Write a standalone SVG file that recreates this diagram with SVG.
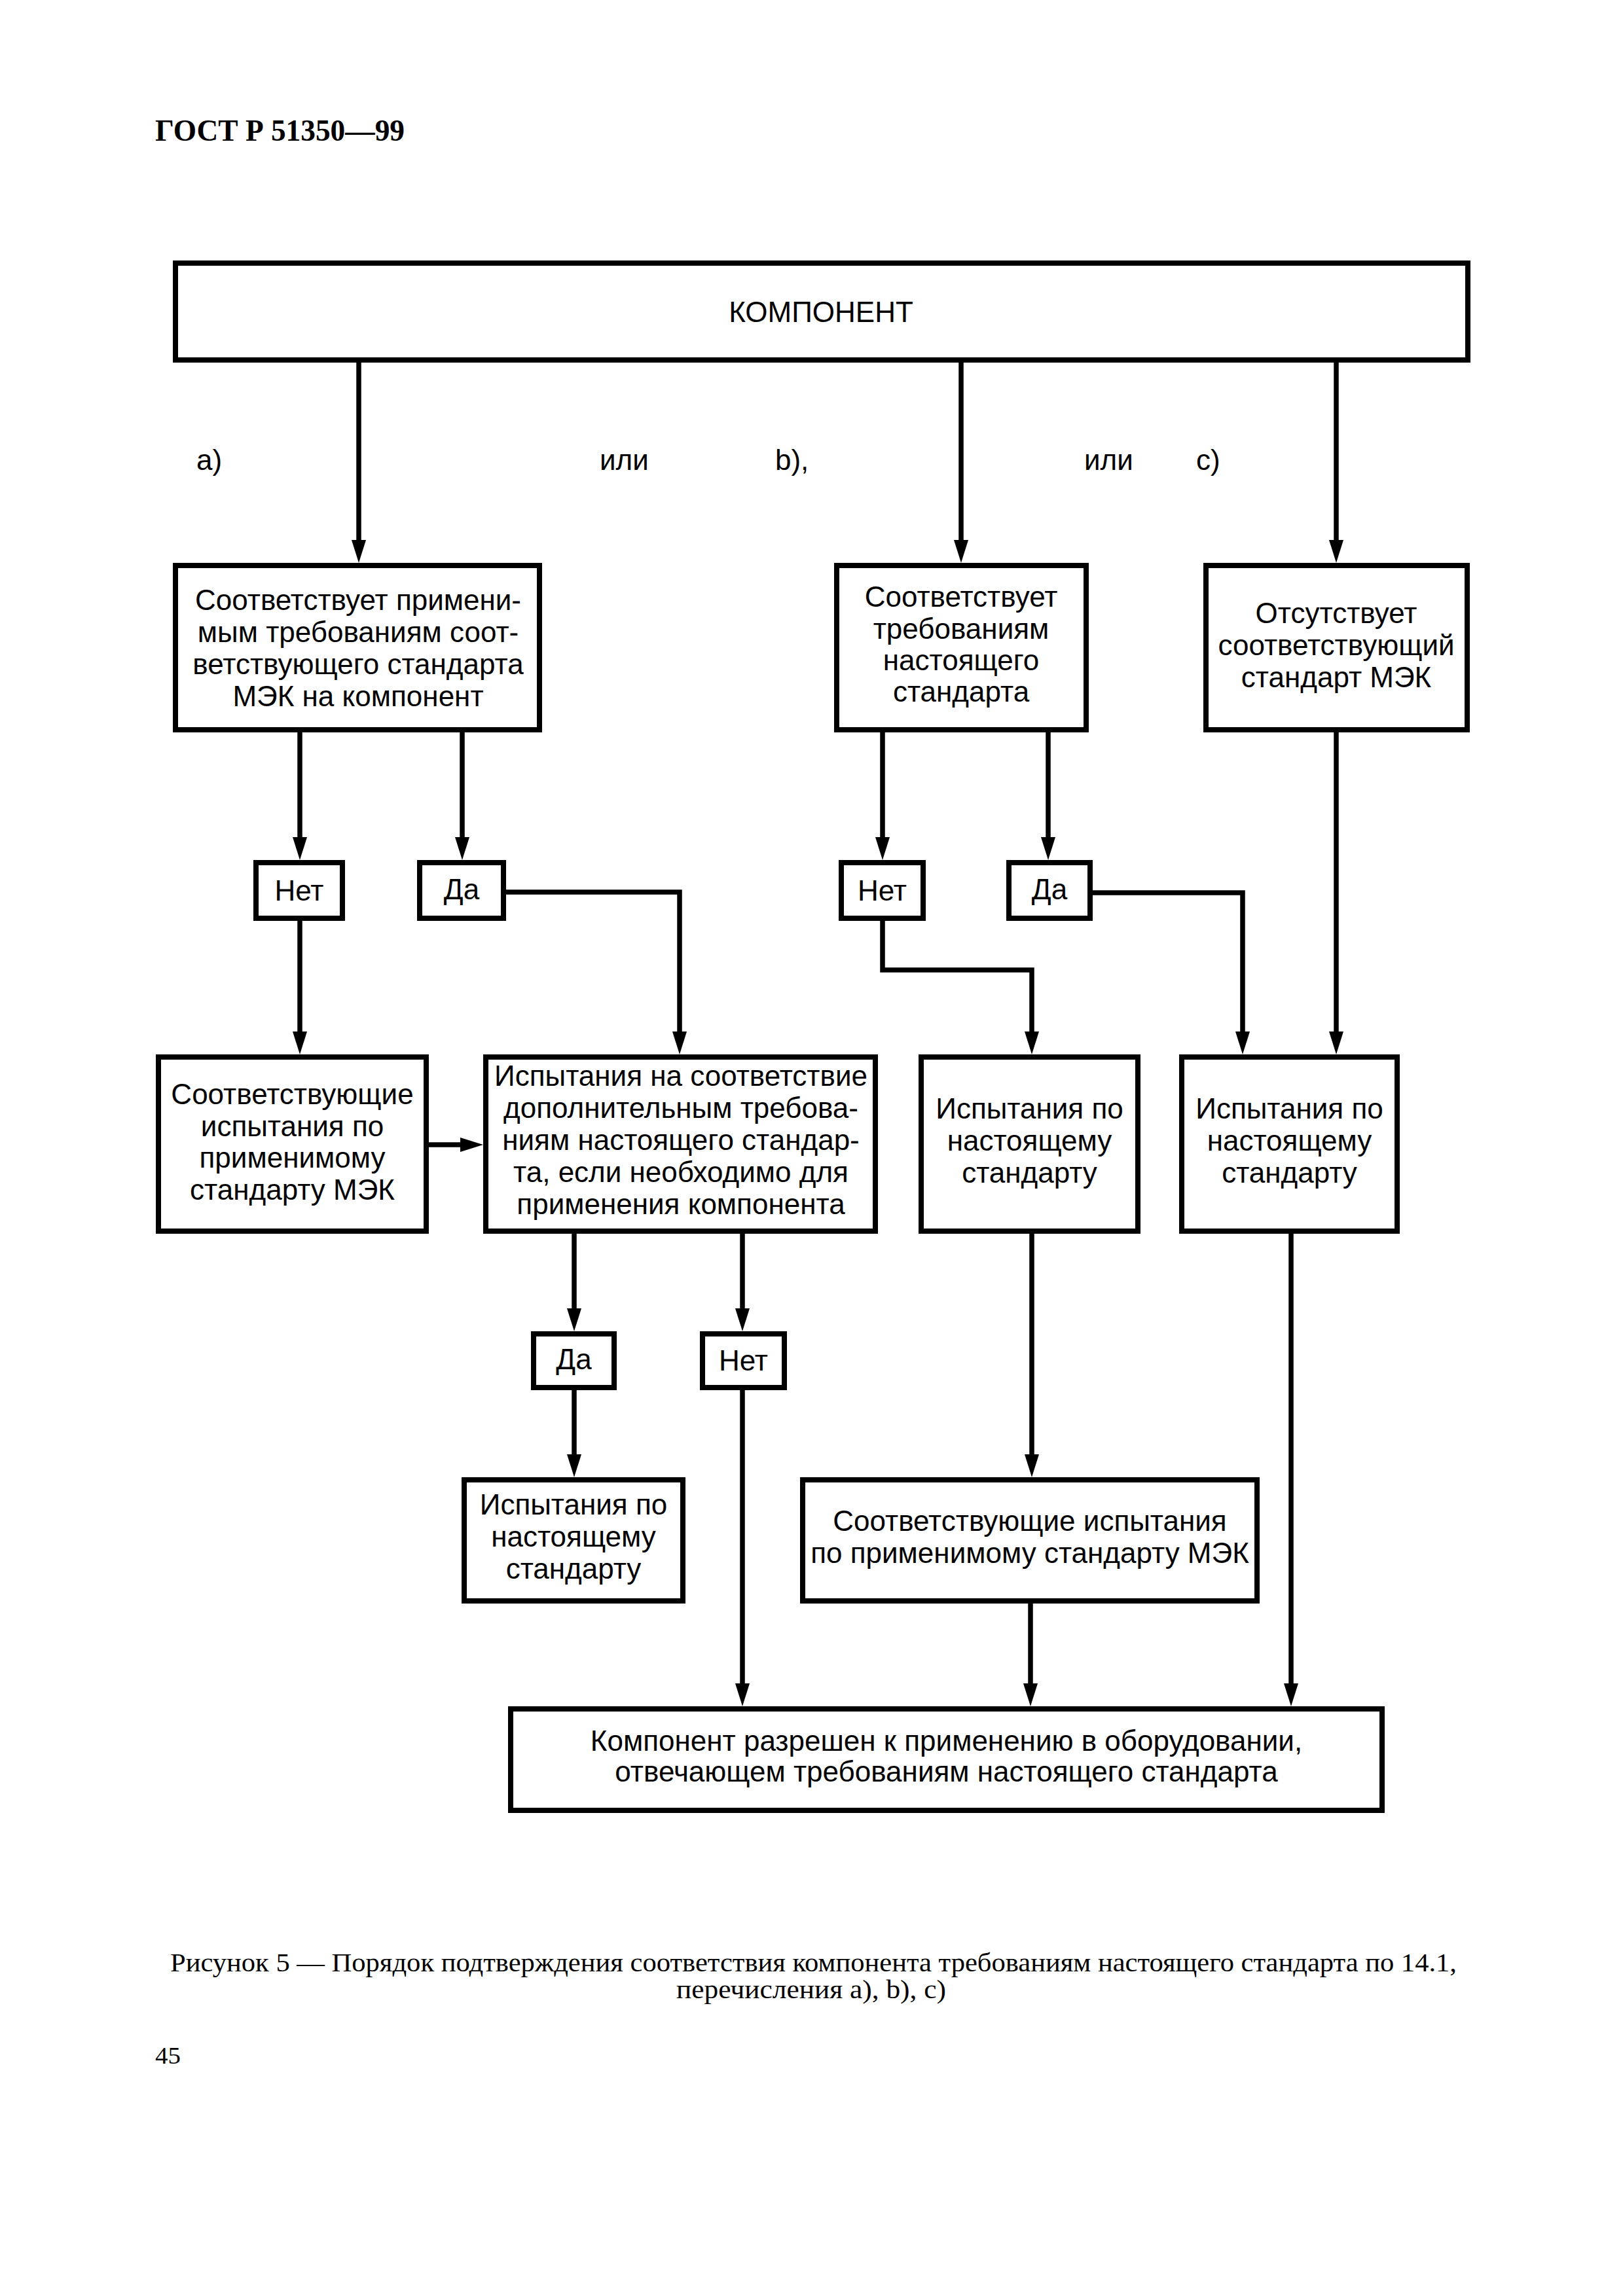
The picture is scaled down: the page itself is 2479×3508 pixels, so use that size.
<svg xmlns="http://www.w3.org/2000/svg" width="2479" height="3508" viewBox="0 0 2479 3508">
<style>
.bx{fill:#fff;stroke:#000;stroke-width:8}
.t{font-family:"Liberation Sans",Arial,sans-serif;font-size:44px;fill:#000;text-anchor:middle}
.l{font-family:"Liberation Sans",Arial,sans-serif;font-size:44px;fill:#000}
.c{fill:none;stroke:#000;stroke-width:7.5}
.s{font-family:"Liberation Serif","Times New Roman",serif;fill:#000}
</style>
<defs>
<marker id="ah" viewBox="0 0 35 22" markerWidth="35" markerHeight="22" refX="15" refY="11" orient="auto" markerUnits="userSpaceOnUse">
<path d="M0,0 L35,11 L0,22 Z" fill="#000"/>
</marker>
</defs>
<rect width="2479" height="3508" fill="#fff"/>

<text class="s" x="237" y="215" font-size="46" font-weight="bold" textLength="381" lengthAdjust="spacingAndGlyphs">ГОСТ Р 51350—99</text>

<g id="connectors">
<path class="c" d="M548,554 V840" marker-end="url(#ah)"/>
<path class="c" d="M1468,554 V840" marker-end="url(#ah)"/>
<path class="c" d="M2041,554 V840" marker-end="url(#ah)"/>
<path class="c" d="M458,1119 V1294" marker-end="url(#ah)"/>
<path class="c" d="M706,1119 V1294" marker-end="url(#ah)"/>
<path class="c" d="M458,1407 V1591" marker-end="url(#ah)"/>
<path class="c" d="M773,1363 H1038 V1591" marker-end="url(#ah)"/>
<path class="c" d="M1348,1119 V1294" marker-end="url(#ah)"/>
<path class="c" d="M1601,1119 V1294" marker-end="url(#ah)"/>
<path class="c" d="M1348,1407 V1482 H1576 V1591" marker-end="url(#ah)"/>
<path class="c" d="M1668,1364 H1898 V1591" marker-end="url(#ah)"/>
<path class="c" d="M2041,1119 V1591" marker-end="url(#ah)"/>
<path class="c" d="M655,1749 H718" marker-end="url(#ah)"/>
<path class="c" d="M877,1885 V2014" marker-end="url(#ah)"/>
<path class="c" d="M1134,1885 V2014" marker-end="url(#ah)"/>
<path class="c" d="M877,2123 V2237" marker-end="url(#ah)"/>
<path class="c" d="M1134,2123 V2587" marker-end="url(#ah)"/>
<path class="c" d="M1576,1885 V2237" marker-end="url(#ah)"/>
<path class="c" d="M1574,2450 V2587" marker-end="url(#ah)"/>
<path class="c" d="M1972,1885 V2587" marker-end="url(#ah)"/>
</g>

<g id="labels">
<text class="l" x="300" y="718">a)</text>
<text class="l" x="916" y="718">или</text>
<text class="l" x="1184" y="718">b),</text>
<text class="l" x="1656" y="718">или</text>
<text class="l" x="1827" y="718">c)</text>
</g>

<g id="n-component">
<rect class="bx" x="268" y="402" width="1974" height="148"/>
<text class="t" x="1254" y="492">КОМПОНЕНТ</text>
</g>

<g id="n-a">
<rect class="bx" x="268" y="864" width="556" height="251"/>
<text class="t" x="547" y="932">Соответствует примени-</text>
<text class="t" x="547" y="981">мым требованиям соот-</text>
<text class="t" x="547" y="1030">ветствующего стандарта</text>
<text class="t" x="547" y="1079">МЭК на компонент</text>
</g>

<g id="n-b">
<rect class="bx" x="1278" y="864" width="381" height="251"/>
<text class="t" x="1468" y="927">Соответствует</text>
<text class="t" x="1468" y="976">требованиям</text>
<text class="t" x="1468" y="1024">настоящего</text>
<text class="t" x="1468" y="1072">стандарта</text>
</g>

<g id="n-c">
<rect class="bx" x="1842" y="864" width="399" height="251"/>
<text class="t" x="2041" y="952">Отсутствует</text>
<text class="t" x="2041" y="1001">соответствующий</text>
<text class="t" x="2041" y="1050">стандарт МЭК</text>
</g>

<g id="n-no-a">
<rect class="bx" x="391" y="1318" width="132" height="85"/>
<text class="t" x="457" y="1376">Нет</text>
</g>
<g id="n-yes-a">
<rect class="bx" x="641" y="1318" width="128" height="85"/>
<text class="t" x="705" y="1374">Да</text>
</g>
<g id="n-no-b">
<rect class="bx" x="1285" y="1318" width="125" height="85"/>
<text class="t" x="1347.5" y="1376">Нет</text>
</g>
<g id="n-yes-b">
<rect class="bx" x="1541" y="1318" width="124" height="85"/>
<text class="t" x="1603" y="1374">Да</text>
</g>

<g id="n-iec-tests">
<rect class="bx" x="242" y="1615" width="409" height="266"/>
<text class="t" x="446.5" y="1687">Соответствующие</text>
<text class="t" x="446.5" y="1736">испытания по</text>
<text class="t" x="446.5" y="1784">применимому</text>
<text class="t" x="446.5" y="1833">стандарту МЭК</text>
</g>

<g id="n-add-tests">
<rect class="bx" x="742" y="1615" width="595" height="266"/>
<text class="t" x="1040" y="1659">Испытания на соответствие</text>
<text class="t" x="1040" y="1708">дополнительным требова-</text>
<text class="t" x="1040" y="1757">ниям настоящего стандар-</text>
<text class="t" x="1040" y="1806">та, если необходимо для</text>
<text class="t" x="1040" y="1855">применения компонента</text>
</g>

<g id="n-tests-b">
<rect class="bx" x="1407" y="1615" width="331" height="266"/>
<text class="t" x="1572.5" y="1709">Испытания по</text>
<text class="t" x="1572.5" y="1758">настоящему</text>
<text class="t" x="1572.5" y="1807">стандарту</text>
</g>

<g id="n-tests-c">
<rect class="bx" x="1805" y="1615" width="329" height="266"/>
<text class="t" x="1969.5" y="1709">Испытания по</text>
<text class="t" x="1969.5" y="1758">настоящему</text>
<text class="t" x="1969.5" y="1807">стандарту</text>
</g>

<g id="n-yes-c">
<rect class="bx" x="815" y="2038" width="123" height="82"/>
<text class="t" x="876.5" y="2092">Да</text>
</g>
<g id="n-no-c">
<rect class="bx" x="1073" y="2038" width="125" height="82"/>
<text class="t" x="1135.5" y="2094">Нет</text>
</g>

<g id="n-tests-d">
<rect class="bx" x="709" y="2261" width="334" height="185"/>
<text class="t" x="876" y="2314">Испытания по</text>
<text class="t" x="876" y="2363">настоящему</text>
<text class="t" x="876" y="2412">стандарту</text>
</g>

<g id="n-iec-tests-2">
<rect class="bx" x="1226" y="2261" width="694" height="185"/>
<text class="t" x="1573" y="2339">Соответствующие испытания</text>
<text class="t" x="1573" y="2388">по применимому стандарту МЭК</text>
</g>

<g id="n-final">
<rect class="bx" x="780" y="2611" width="1331" height="155"/>
<text class="t" x="1445.5" y="2675">Компонент разрешен к применению в оборудовании,</text>
<text class="t" x="1445.5" y="2722">отвечающем требованиям настоящего стандарта</text>
</g>

<text class="s" x="260" y="3012" font-size="40" textLength="1965" lengthAdjust="spacingAndGlyphs">Рисунок 5 — Порядок подтверждения соответствия компонента требованиям настоящего стандарта по 14.1,</text>
<text class="s" x="1033" y="3053" font-size="40" textLength="412" lengthAdjust="spacingAndGlyphs">перечисления a), b), c)</text>
<text class="s" x="237" y="3153" font-size="36" textLength="39" lengthAdjust="spacingAndGlyphs">45</text>
</svg>
